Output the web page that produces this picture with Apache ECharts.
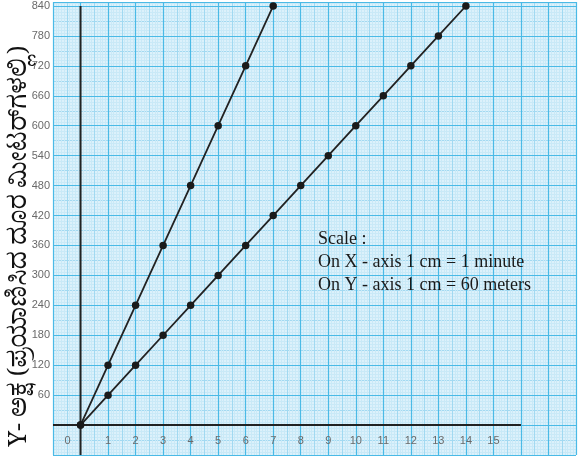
<!DOCTYPE html>
<html><head><meta charset="utf-8">
<script src="https://cdn.jsdelivr.net/npm/echarts@6/dist/echarts.min.js"></script>
<style>html,body{margin:0;padding:0;background:#fff}#c{width:584px;height:457px}</style>
</head><body><div id="c"></div>
<script>
const timeMinutes = [0,1,2,3,4,5,6,7,8,9,10,11,12,13,14];
const fastDistance = [0,120,240,360,480,600,720,840];
const slowDistance = [0,60,120,180,240,300,360,420,480,540,600,660,720,780,840];
const xTickLabels = [0,1,2,3,4,5,6,7,8,9,10,11,12,13,14,15];
const yTickLabels = [60,120,180,240,300,360,420,480,540,600,660,720,780,840];
const axisTitle = 'Y- ಅಕ್ಷ (ಪ್ರಯಾಣಿಸಿದ ದೂರ ಮೀಟರ್‌ಗಳಲ್ಲಿ)';
const scaleNote = ['Scale :', 'On X - axis 1 cm = 1 minute', 'On Y - axis 1 cm = 60 meters'];
const xAxisLineSpan = [-1, 16];
const yAxisLineSpan = [-60, 840];

const chart = echarts.init(document.getElementById('c'));
const labelFont = "'Liberation Sans', Arial, sans-serif";
const major = '#4abae6', medium = '#a2d9f1', fine = '#c9e9f7';

chart.setOption({
  animation: false,
  grid: {left: 53, right: 8, top: 2, bottom: 2, show: true, backgroundColor: '#dcf1fb', borderWidth: 0,
    containLabel: false, outerBoundsMode: 'none'},
  xAxis: [{
    type: 'value', min: -1, max: 18, interval: 1, z: 3, position: 'bottom',
    axisLine: {show: false, onZero: false}, axisTick: {show: false},
    splitLine: {show: true, lineStyle: {color: major, width: 1.2}},
    axisLabel: {
      inside: true, margin: 9, fontSize: 11, color: '#6a6a6a', fontFamily: labelFont,
      formatter: v => xTickLabels.includes(v) ? (v === 0 ? '{z|0}' : String(v)) : '',
      rich: {z: {padding: [0, 26, 0, 0], fontSize: 11, color: '#6a6a6a', fontFamily: labelFont}}
    }
  }, {
    type: 'value', min: -1, max: 18, interval: 0.5, z: 1, position: 'top',
    axisLine: {show: false, onZero: false}, axisTick: {show: false}, axisLabel: {show: false},
    splitLine: {show: true, lineStyle: {color: medium, width: 1}},
    minorTick: {show: false, splitNumber: 5},
    minorSplitLine: {show: true, lineStyle: {color: fine, width: 1}}
  }],
  yAxis: [{
    type: 'value', min: -60, max: 848, interval: 60, z: 3,
    axisLine: {show: false, onZero: true, onZeroAxisIndex: 0}, axisTick: {show: false},
    splitLine: {show: true, lineStyle: {color: major, width: 1.2}},
    axisLabel: {
      margin: 3, fontSize: 11, color: '#6a6a6a', fontFamily: labelFont,
      formatter: v => yTickLabels.includes(v) ? String(v) : ''
    }
  }, {
    type: 'value', min: -60, max: 848, interval: 30, z: 1, position: 'right',
    axisLine: {show: false, onZero: false}, axisTick: {show: false}, axisLabel: {show: false},
    splitLine: {show: true, lineStyle: {color: medium, width: 1}},
    minorTick: {show: false, splitNumber: 5},
    minorSplitLine: {show: true, lineStyle: {color: fine, width: 1}}
  }],
  series: [{
    type: 'line', z: 8, silent: true, symbol: 'none',
    data: xAxisLineSpan.map(x => [x, 0]),
    lineStyle: {color: '#222', width: 2}
  }, {
    type: 'line', z: 8, silent: true, symbol: 'none',
    data: yAxisLineSpan.map(y => [0, y]),
    lineStyle: {color: '#222', width: 2}
  }, {
    type: 'line', z: 10, symbol: 'circle', symbolSize: 7.5,
    data: fastDistance.map((d, i) => [timeMinutes[i], d]),
    lineStyle: {color: '#222', width: 1.8}, itemStyle: {color: '#1a1a1a'}
  }, {
    type: 'line', z: 10, symbol: 'circle', symbolSize: 7.5,
    data: slowDistance.map((d, i) => [timeMinutes[i], d]),
    lineStyle: {color: '#222', width: 1.8}, itemStyle: {color: '#1a1a1a'}
  }],
  graphic: [{
    type: 'text', x: 24, y: 246, rotation: Math.PI / 2, z: 20,
    style: {text: axisTitle, fill: '#111', fontSize: 25,
      fontFamily: "'Noto Serif Kannada','Noto Sans Kannada','Liberation Serif',serif",
      align: 'center', verticalAlign: 'middle'}
  }, {
    type: 'text', left: 318, top: 228, z: 20,
    style: {text: scaleNote.join('\n'), fill: '#1a1a1a', fontSize: 18, lineHeight: 22.8,
      fontFamily: "'Liberation Serif','Times New Roman',serif"}
  }]
});
</script></body></html>
